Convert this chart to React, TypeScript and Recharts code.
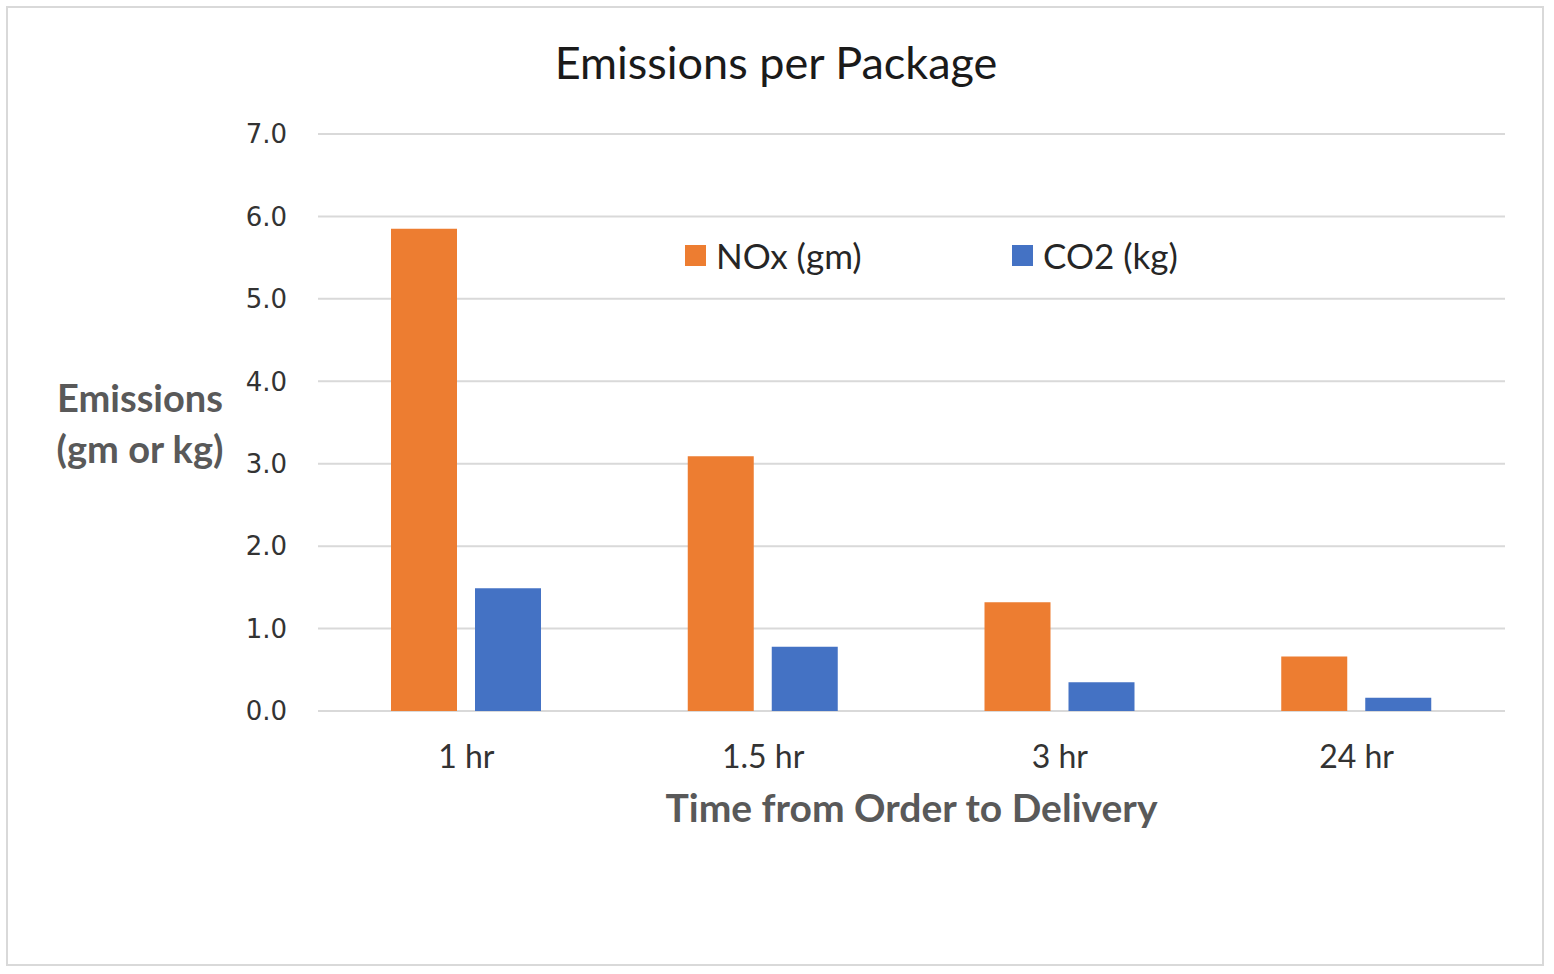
import React from 'react';
import { BarChart, Bar, XAxis, YAxis, CartesianGrid, Legend, Label } from 'recharts';

const categories = ['1 hr', '1.5 hr', '3 hr', '24 hr'];
const noxValues = [5.85, 3.09, 1.32, 0.66];
const co2Values = [1.49, 0.78, 0.35, 0.16];
const yTicks = [0, 1, 2, 3, 4, 5, 6, 7];
const seriesOrder = ['nox', 'co2'];

const ORANGE = '#ED7D31';
const BLUE = '#4472C4';
const FONT = 'Lato, "Open Sans", sans-serif';

const YTitle = ({ viewBox }: any) => {
    const cx = viewBox.x - 98;
    const cy = viewBox.y + viewBox.height / 2;
    return (
        <text textAnchor="middle" fontFamily={FONT} fontWeight="bold" fontSize={38} fill="#595959">
            <tspan x={cx} y={cy - 11}>Emissions</tspan>
            <tspan x={cx} y={cy + 40}>(gm or kg)</tspan>
        </text>
    );
};

const XTitle = ({ viewBox }: any) => (
    <text x={viewBox.x + viewBox.width / 2} y={viewBox.y + 111} textAnchor="middle"
        fontFamily={FONT} fontWeight="bold" fontSize={39} fill="#595959">
        Time from Order to Delivery
    </text>
);

const LegendBox = ({ payload }: any) => {
    const items = [...(payload || [])].sort(
        (a: any, b: any) => seriesOrder.indexOf(a.dataKey) - seriesOrder.indexOf(b.dataKey)
    );
    return (
        <div style={{ display: 'flex', fontFamily: FONT, fontSize: 35, color: '#262626' }}>
            {items.map((entry: any, i: number) => (
                <div key={entry.value} style={{ display: 'flex', alignItems: 'center', width: i === 0 ? 327 : 'auto' }}>
                    <span style={{ width: 21, height: 21, background: entry.color, marginRight: 10, display: 'inline-block' }} />
                    <span>{entry.value}</span>
                </div>
            ))}
        </div>
    );
};

export default function App() {
    const data = categories.map((name, i) => ({ name, nox: noxValues[i], co2: co2Values[i] }));

    return (
        <div style={{ position: 'absolute', top: 6, left: 6, width: 1538, height: 960, background: '#fff' }}>
            <div style={{
                position: 'absolute', top: 30, left: 0, width: 1540, textAlign: 'center',
                fontFamily: FONT, fontSize: 45, lineHeight: '52px', color: '#1a1a1a'
            }}>
                Emissions per Package
            </div>
            <BarChart width={1538} height={960} data={data}
                margin={{ top: 128, right: 39, left: 232, bottom: 115 }}
                barCategoryGap="24.6%" barGap={18}>
                <CartesianGrid vertical={false} stroke="#d9d9d9" strokeWidth={2} />
                <YAxis domain={[0, 7]} ticks={yTicks} interval={0} width={80}
                    axisLine={false} tickLine={false} tickSize={0} tickMargin={31}
                    tickFormatter={(v: number) => v.toFixed(1)}
                    tick={{ fontFamily: '"DejaVu Sans", Verdana, sans-serif', fontSize: 26, fill: '#333' }}>
                    <Label content={<YTitle />} />
                </YAxis>
                <XAxis dataKey="name" height={140} axisLine={false} tickLine={false} tickSize={0} tickMargin={34}
                    tick={{ fontFamily: FONT, fontSize: 32, fill: '#333' }}>
                    <Label content={<XTitle />} />
                </XAxis>
                <Legend layout="horizontal" verticalAlign="middle" align="center" content={<LegendBox />}
                    wrapperStyle={{ position: 'absolute', top: 228, left: 679, width: 'auto' }} />
                <Bar dataKey="nox" name="NOx (gm)" fill={ORANGE} isAnimationActive={false} />
                <Bar dataKey="co2" name="CO2 (kg)" fill={BLUE} isAnimationActive={false} />
            </BarChart>
            <div style={{ position: 'absolute', inset: 0, border: '2px solid #d9d9d9', pointerEvents: 'none', zIndex: 10 }} />
        </div>
    );
}
